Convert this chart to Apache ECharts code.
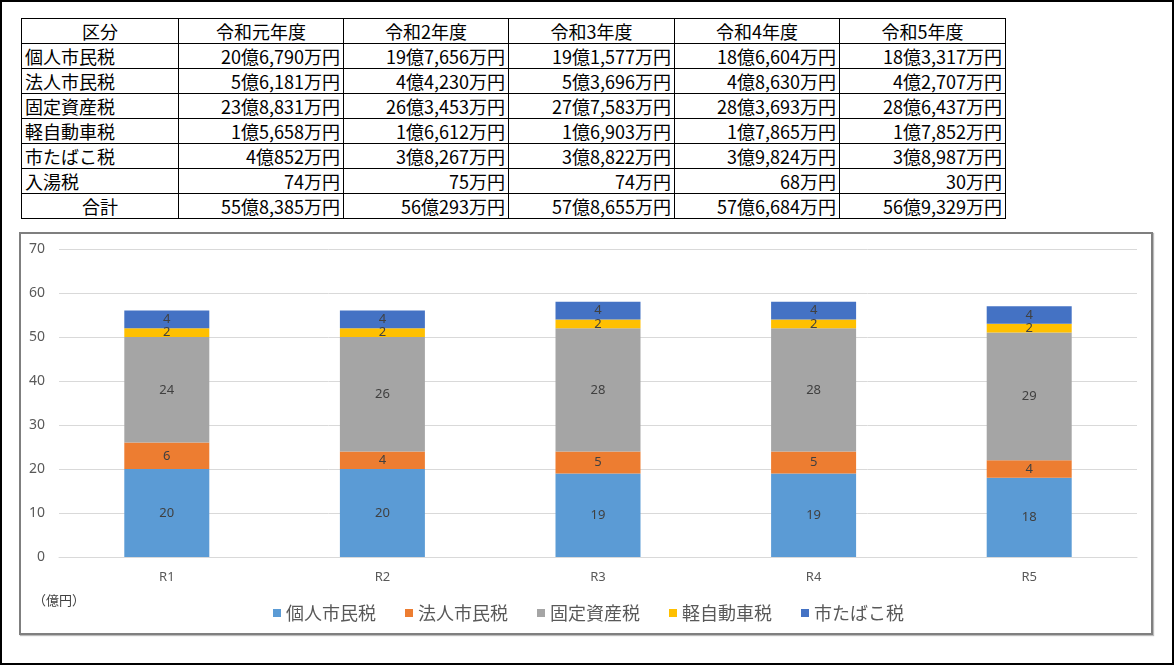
<!DOCTYPE html>
<html lang="ja">
<head>
    <meta charset="UTF-8" />
    <title>市税の推移</title>
    <style>
        html, body { margin: 0; padding: 0; background: #fff; }
        #page {
            position: relative;
            width: 1174px;
            height: 665px;
            box-sizing: border-box;
            border: 2px solid #000;
            font-family: "Noto Sans CJK JP", sans-serif;
        }
        #tbl {
            position: absolute;
            left: 19px;
            top: 16px;
            width: 984px;
            table-layout: fixed;
            border-collapse: collapse;
            font-size: 18px;
            color: #000;
        }
        #tbl td {
            border: 1px solid #000;
            height: 24px;
            padding: 0 3px;
            line-height: 22px;
            white-space: nowrap;
        }
        #tbl td.num { text-align: right; }
        #tbl td.head { text-align: center; }
        #box {
            position: absolute;
            left: 17px;
            top: 230px;
            width: 1134px;
            height: 403px;
            box-sizing: border-box;
            border: 2px solid #7f7f7f;
            box-shadow: 1px 1px 1px #bbb;
        }
        #container { width: 1130px; height: 399px; }
    </style>
</head>
<body>
    <div id="page">
        <table id="tbl"></table>
        <div id="box"><div id="container"></div></div>
    </div>
    <script src="https://cdn.jsdelivr.net/npm/echarts@6/dist/echarts.min.js"></script>
    <script type="text/javascript">
        // 表のデータ
        var tableHead = ['区分', '令和元年度', '令和2年度', '令和3年度', '令和4年度', '令和5年度'];
        var tableRows = [
            ['個人市民税', '20億6,790万円', '19億7,656万円', '19億1,577万円', '18億6,604万円', '18億3,317万円'],
            ['法人市民税', '5億6,181万円', '4億4,230万円', '5億3,696万円', '4億8,630万円', '4億2,707万円'],
            ['固定資産税', '23億8,831万円', '26億3,453万円', '27億7,583万円', '28億3,693万円', '28億6,437万円'],
            ['軽自動車税', '1億5,658万円', '1億6,612万円', '1億6,903万円', '1億7,865万円', '1億7,852万円'],
            ['市たばこ税', '4億852万円', '3億8,267万円', '3億8,822万円', '3億9,824万円', '3億8,987万円'],
            ['入湯税', '74万円', '75万円', '74万円', '68万円', '30万円'],
            ['合計', '55億8,385万円', '56億293万円', '57億8,655万円', '57億6,684万円', '56億9,329万円']
        ];
        var colWidths = [157, 165, 165, 166, 165, 166];

        // グラフのデータ（億円）
        var years = ['R1', 'R2', 'R3', 'R4', 'R5'];
        var kojin = [20, 20, 19, 19, 18];
        var houjin = [6, 4, 5, 5, 4];
        var kotei = [24, 26, 28, 28, 29];
        var keiji = [2, 2, 2, 2, 2];
        var tabako = [4, 4, 4, 4, 4];
        var yTicks = [0, 10, 20, 30, 40, 50, 60, 70];

        var tbl = document.getElementById('tbl');
        var html = '<colgroup>';
        for (var k = 0; k < colWidths.length; k++) {
            html += '<col style="width:' + colWidths[k] + 'px">';
        }
        html += '</colgroup><tr>';
        for (var i = 0; i < tableHead.length; i++) {
            html += '<td class="head">' + tableHead[i] + '</td>';
        }
        html += '</tr>';
        for (var r = 0; r < tableRows.length; r++) {
            html += '<tr>';
            for (var c = 0; c < tableRows[r].length; c++) {
                var cls = c == 0 ? (tableRows[r][0] == '合計' ? 'head' : '') : 'num';
                html += '<td class="' + cls + '">' + tableRows[r][c] + '</td>';
            }
            html += '</tr>';
        }
        tbl.innerHTML = html;

        var dom = document.getElementById("container");
        var myChart = echarts.init(dom);
        var lbl = {
            show: true,
            position: 'inside',
            color: '#404040',
            fontSize: 13,
            fontFamily: 'Noto Sans'
        };
        function bar(name, data, color) {
            return {
                name: name,
                type: 'bar',
                stack: 'tax',
                data: data,
                barWidth: 85,
                itemStyle: { color: color },
                label: lbl
            };
        }
        var option = {
            animation: false,
            textStyle: { fontFamily: 'Noto Sans CJK JP' },
            grid: { left: 38, right: 14, top: 15, bottom: 76 },
            xAxis: {
                type: 'category',
                data: years,
                axisLine: { lineStyle: { color: '#d9d9d9' } },
                axisTick: { show: false },
                axisLabel: { color: '#595959', fontSize: 13, margin: 14, fontFamily: 'Noto Sans' }
            },
            yAxis: {
                type: 'value',
                min: yTicks[0],
                max: yTicks[yTicks.length - 1],
                interval: 10,
                axisLabel: { color: '#595959', fontSize: 14, margin: 14, fontFamily: 'Noto Sans' },
                splitLine: { lineStyle: { color: '#d9d9d9' } }
            },
            legend: {
                left: 247,
                top: 365,
                itemWidth: 8,
                itemHeight: 8,
                itemGap: 29,
                icon: 'rect',
                textStyle: { color: '#595959', fontSize: 18 },
                data: ['個人市民税', '法人市民税', '固定資産税', '軽自動車税', '市たばこ税']
            },
            graphic: [{
                type: 'text',
                left: 12,
                top: 360,
                style: { text: '（億円）', fill: '#404040', fontSize: 13, fontFamily: 'Noto Sans CJK JP' }
            }],
            series: [
                bar('個人市民税', kojin, '#5b9bd5'),
                bar('法人市民税', houjin, '#ed7d31'),
                bar('固定資産税', kotei, '#a5a5a5'),
                bar('軽自動車税', keiji, '#ffc000'),
                bar('市たばこ税', tabako, '#4472c4')
            ]
        };
        myChart.setOption(option, true);
    </script>
</body>
</html>
